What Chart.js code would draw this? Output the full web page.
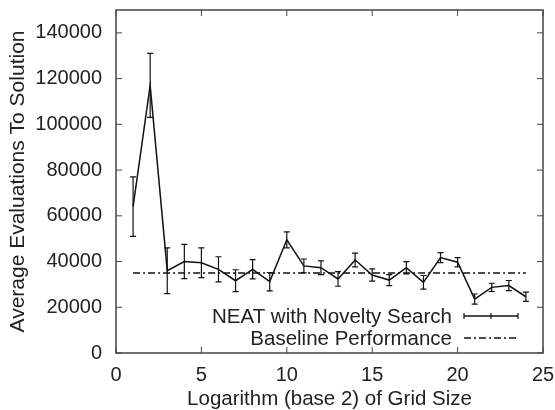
<!DOCTYPE html>
<html>
<head>
<meta charset="utf-8">
<script src="https://cdn.jsdelivr.net/npm/chart.js@4.4.0/dist/chart.umd.min.js"></script>
<style>
  html, body { margin: 0; padding: 0; background: #fff; }
</style>
</head>
<body>
<canvas id="chart" width="555" height="410"></canvas>
<script>
const gridSizes = [1, 2, 3, 4, 5, 6, 7, 8, 9, 10, 11, 12, 13, 14, 15, 16, 17, 18, 19, 20, 21, 22, 23, 24];
const meanEvals = [64000, 117000, 36000, 40000, 39500, 36600, 31600, 36600, 31200, 49500, 38100, 37300,
  32400, 40700, 34100, 31900, 37300, 30900, 41700, 39700, 23600, 28700, 29500, 24600];
const errEvals = [13000, 14000, 10000, 7500, 6500, 5500, 4800, 4200, 4000, 3500, 3000, 3000,
  3200, 3000, 2700, 2400, 2700, 3000, 2200, 2000, 2200, 1800, 2200, 2000];
const baselineX = [1, 24];
const baselineValue = 35000;
const xTicks = [0, 5, 10, 15, 20, 25];
const yTicks = [0, 20000, 40000, 60000, 80000, 100000, 120000, 140000];

const FONT = "'Liberation Sans', Arial, sans-serif";
const INK = "#111";
const FRAME = "#444";

const plotExtras = {
  id: "plotExtras",
  afterDatasetsDraw(chart) {
    const { ctx, chartArea: a, scales } = chart;
    const xs = scales.x, ys = scales.y;
    ctx.save();

    // error bars
    const meta = chart.getDatasetMeta(0);
    ctx.strokeStyle = INK;
    ctx.lineWidth = 1.2;
    meta.data.forEach((pt, i) => {
      const top = ys.getPixelForValue(meanEvals[i] + errEvals[i]);
      const bot = ys.getPixelForValue(meanEvals[i] - errEvals[i]);
      ctx.beginPath();
      ctx.moveTo(pt.x, top); ctx.lineTo(pt.x, bot);
      ctx.moveTo(pt.x - 3, top); ctx.lineTo(pt.x + 3, top);
      ctx.moveTo(pt.x - 3, bot); ctx.lineTo(pt.x + 3, bot);
      ctx.stroke();
    });

    // frame
    ctx.strokeStyle = FRAME;
    ctx.lineWidth = 1.5;
    ctx.strokeRect(a.left, a.top, a.right - a.left, a.bottom - a.top);

    // inside ticks
    ctx.lineWidth = 1;
    ctx.beginPath();
    xs.ticks.forEach(t => {
      const px = xs.getPixelForValue(t.value);
      ctx.moveTo(px, a.bottom); ctx.lineTo(px, a.bottom - 6);
      ctx.moveTo(px, a.top); ctx.lineTo(px, a.top + 6);
    });
    ys.ticks.forEach(t => {
      const py = ys.getPixelForValue(t.value);
      ctx.moveTo(a.left, py); ctx.lineTo(a.left + 6, py);
      ctx.moveTo(a.right, py); ctx.lineTo(a.right - 6, py);
    });
    ctx.stroke();

    // legend
    const ds = chart.data.datasets;
    ctx.font = "20.5px " + FONT;
    ctx.fillStyle = "#222";
    ctx.textAlign = "right";
    ctx.textBaseline = "middle";
    const rows = [316, 338];
    ds.forEach((d, i) => {
      const y = rows[i];
      ctx.fillText(d.label, 452, y + 1);
      ctx.strokeStyle = INK;
      ctx.lineWidth = d.borderWidth;
      ctx.setLineDash(d.borderDash || []);
      ctx.beginPath();
      ctx.moveTo(464, y); ctx.lineTo(518, y);
      ctx.stroke();
      ctx.setLineDash([]);
      if (i === 0) {
        ctx.lineWidth = 1.2;
        ctx.beginPath();
        [464, 491, 518].forEach(x => { ctx.moveTo(x, y - 3); ctx.lineTo(x, y + 3); });
        ctx.stroke();
      }
    });
    ctx.restore();
  }
};

new Chart(document.getElementById("chart"), {
  type: "line",
  data: {
    datasets: [
      {
        label: "NEAT with Novelty Search",
        data: gridSizes.map((x, i) => ({ x: x, y: meanEvals[i] })),
        borderColor: INK,
        borderWidth: 1.5,
        pointRadius: 0,
        tension: 0,
      },
      {
        label: "Baseline Performance",
        data: baselineX.map(x => ({ x: x, y: baselineValue })),
        borderColor: INK,
        borderWidth: 1.5,
        borderDash: [7, 3, 2, 3],
        pointRadius: 0,
      },
    ],
  },
  options: {
    responsive: false,
    animation: false,
    devicePixelRatio: 1,
    layout: { padding: { top: 10, right: 12, left: 0, bottom: 0 } },
    plugins: { legend: { display: false }, tooltip: { enabled: false } },
    scales: {
      x: {
        type: "linear",
        min: 0,
        max: 25,
        afterBuildTicks: s => { s.ticks = xTicks.map(v => ({ value: v })); },
        afterFit: s => { s.height = 57; s.paddingLeft = 0; s.paddingRight = 0; },
        grid: { display: false, drawTicks: false },
        border: { display: false },
        ticks: { padding: 10, color: "#222", font: { family: FONT, size: 20 }, callback: v => String(v) },
        title: {
          display: true,
          text: "Logarithm (base 2) of Grid Size",
          color: "#222",
          padding: 0,
          font: { family: FONT, size: 20.5, lineHeight: 1 },
        },
      },
      y: {
        min: 0,
        max: 150000,
        afterBuildTicks: s => { s.ticks = yTicks.map(v => ({ value: v })); },
        afterFit: s => { s.width = 116; s.paddingTop = 0; s.paddingBottom = 0; },
        grid: { display: false, drawTicks: false },
        border: { display: false },
        ticks: { padding: 14, color: "#222", font: { family: FONT, size: 20 }, callback: v => String(v) },
        title: {
          display: true,
          text: "Average Evaluations To Solution",
          color: "#222",
          padding: { top: 8, bottom: 0 },
          font: { family: FONT, size: 21, lineHeight: 1 },
        },
      },
    },
  },
  plugins: [plotExtras],
});
</script>
</body>
</html>
